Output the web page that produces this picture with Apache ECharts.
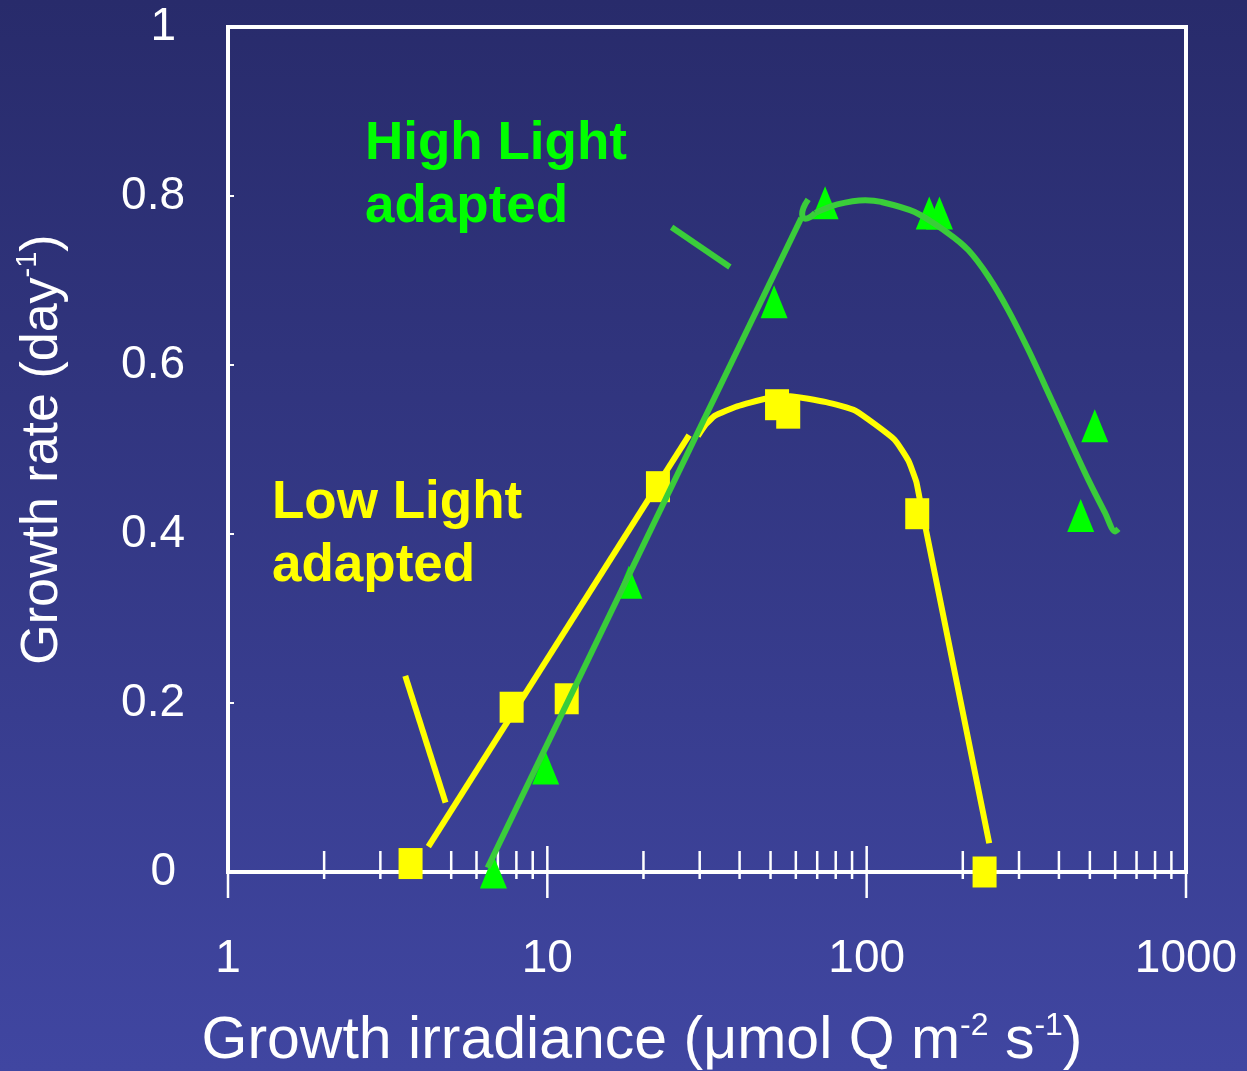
<!DOCTYPE html>
<html>
<head>
<meta charset="utf-8">
<title>Growth rate vs growth irradiance</title>
<script src="https://cdn.jsdelivr.net/npm/echarts@6/dist/echarts.min.js"></script>
<style>
  html, body { margin: 0; padding: 0; }
  #chart { width: 1247px; height: 1071px; }
</style>
</head>
<body>
<div id="chart"></div>
<script>
// Measured growth rates (irradiance, growth rate per day)
const lowLightPoints = [[3.73, 0.01], [7.73, 0.195], [11.5, 0.205], [22.2, 0.456],
  [52.4, 0.553], [56.8, 0.543], [144, 0.424], [234, 0]];
const highLightPoints = [[6.78, 0], [9.88, 0.123], [18.0, 0.343], [51.3, 0.675],
  [74.1, 0.792], [157, 0.780], [169, 0.780], [468, 0.422], [518, 0.528]];

// Hand-fitted response curves
const lowFitRise = [[4.24, 0.03], [27.8, 0.517]];
const lowFitPeak = [[29.6, 0.516], [31.4, 0.530], [33.5, 0.540], [39.3, 0.551], [48.1, 0.560],
  [57.6, 0.563], [74.7, 0.556], [92.1, 0.546], [122, 0.512], [135, 0.487], [143, 0.462],
  [146, 0.445], [242, 0.034]];
const highFitRise = [[6.50, 0.005], [62.4, 0.774]];
const highFitHook = [[65.6, 0.796], [63.4, 0.786], [62.8, 0.778], [64.2, 0.773], [66.5, 0.775], [69.0, 0.780]];
const highFitPeak = [[69.0, 0.780], [80.9, 0.790], [99.0, 0.795], [111.1, 0.793], [141.4, 0.781],
  [179.9, 0.756], [208, 0.736], [240.2, 0.705], [277.5, 0.665], [320.8, 0.618], [370.7, 0.567],
  [428.2, 0.515], [494.7, 0.464], [557.8, 0.425], [599.6, 0.403], [614.4, 0.406]];

// Leader lines from the labels to their curves
const lowPointer = [[3.59, 0.232], [4.80, 0.082]];
const highPointer = [[24.5, 0.763], [37.3, 0.716]];

// Log axis tick positions
const majorTicks = [1, 10, 100, 1000];
const minorTicks = [2, 3, 4, 5, 6, 7, 8, 9, 20, 30, 40, 50, 60, 70, 80, 90,
  200, 300, 400, 500, 600, 700, 800, 900];

const FONT = '"Liberation Sans", Arial, sans-serif';
const YELLOW = '#ffff00';
const GREEN_MARK = '#00ff00';
const GREEN_LINE = '#3acd3a';

const chart = echarts.init(document.getElementById('chart'), null, { renderer: 'canvas' });

function fitLine(data, color, smooth) {
  return {
    type: 'line', data: data, symbol: 'none', smooth: smooth || false,
    lineStyle: { color: color, width: 6, cap: 'butt', join: 'round' },
    z: 5, silent: true, clip: false
  };
}

function tickSeries(values, height, offset) {
  return {
    type: 'scatter', data: values.map(v => [v, 0]), symbol: 'rect',
    symbolSize: [2.5, height], symbolOffset: [0, offset],
    itemStyle: { color: '#ffffff', opacity: 1 }, z: 1, silent: true, clip: false
  };
}

const option = {
  animation: false,
  backgroundColor: {
    type: 'linear', x: 0, y: 0, x2: 0, y2: 1,
    colorStops: [{ offset: 0, color: '#282b6b' }, { offset: 1, color: '#4046a1' }]
  },
  grid: {
    left: 228, right: 61, top: 27, bottom: 199,
    outerBoundsMode: 'none', containLabel: false,
    show: true, borderColor: '#ffffff', borderWidth: 4, backgroundColor: 'transparent'
  },
  xAxis: {
    type: 'log', logBase: 10, min: 1, max: 1000,
    axisLine: { show: true, lineStyle: { color: '#ffffff', width: 4 } },
    axisTick: { show: false },
    minorTick: { show: false },
    splitLine: { show: false },
    axisLabel: {
      color: '#ffffff', fontFamily: FONT, fontSize: 46, margin: 64,
      formatter: v => String(v)
    },
    name: 'Growth irradiance (μmol Q m{sup|-2} s{sup|-1})',
    nameLocation: 'middle', nameGap: 138,
    nameTextStyle: {
      color: '#ffffff', fontFamily: FONT, fontSize: 59, lineHeight: 64,
      padding: [0, 130, 0, 0],
      rich: { sup: { color: '#ffffff', fontFamily: FONT, fontSize: 32, lineHeight: 44, verticalAlign: 'top' } }
    }
  },
  yAxis: {
    type: 'value', min: 0, max: 1, interval: 0.2,
    axisLine: { show: true, lineStyle: { color: '#ffffff', width: 4 } },
    axisTick: { show: true, inside: true, length: 6, lineStyle: { color: '#ffffff', width: 2 } },
    splitLine: { show: false },
    axisLabel: {
      color: '#ffffff', fontFamily: FONT, fontSize: 46, margin: 43,
      formatter: v => (v === 0 || v === 1) ? '{whole|' + v + '}' : v.toFixed(1),
      rich: { whole: { color: '#ffffff', fontFamily: FONT, fontSize: 46, padding: [0, 9, 0, 0] } }
    },
    name: 'Growth rate (day{sup|-1})',
    nameLocation: 'middle', nameGap: 155,
    nameTextStyle: {
      color: '#ffffff', fontFamily: FONT, fontSize: 52, lineHeight: 60,
      rich: { sup: { color: '#ffffff', fontFamily: FONT, fontSize: 29, lineHeight: 40, verticalAlign: 'top' } }
    }
  },
  graphic: [
    {
      type: 'text', left: 365, top: 113, z: 10,
      style: { text: 'High Light\nadapted', fill: GREEN_MARK, font: 'bold 53px ' + FONT, lineHeight: 63 }
    },
    {
      type: 'text', left: 272, top: 472, z: 10,
      style: { text: 'Low Light\nadapted', fill: YELLOW, font: 'bold 53px ' + FONT, lineHeight: 63 }
    }
  ],
  series: [
    tickSeries(minorTicks, 28, -7),
    tickSeries(majorTicks, 52, 0),
    {
      type: 'scatter', name: 'Low Light adapted', data: lowLightPoints,
      symbol: 'rect', symbolSize: [24, 31],
      itemStyle: { color: YELLOW, opacity: 1 }, z: 3, clip: false
    },
    {
      type: 'scatter', name: 'High Light adapted', data: highLightPoints,
      symbol: 'triangle', symbolSize: [27, 33],
      itemStyle: { color: GREEN_MARK, opacity: 1 }, z: 3, clip: false
    },
    fitLine(lowFitRise, YELLOW),
    fitLine(lowFitPeak, YELLOW, 0.15),
    fitLine(lowPointer, YELLOW),
    fitLine(highFitRise, GREEN_LINE),
    fitLine(highFitHook, GREEN_LINE, 0.4),
    fitLine(highFitPeak, GREEN_LINE, 0.3),
    fitLine(highPointer, GREEN_LINE)
  ]
};

chart.setOption(option);
</script>
</body>
</html>
